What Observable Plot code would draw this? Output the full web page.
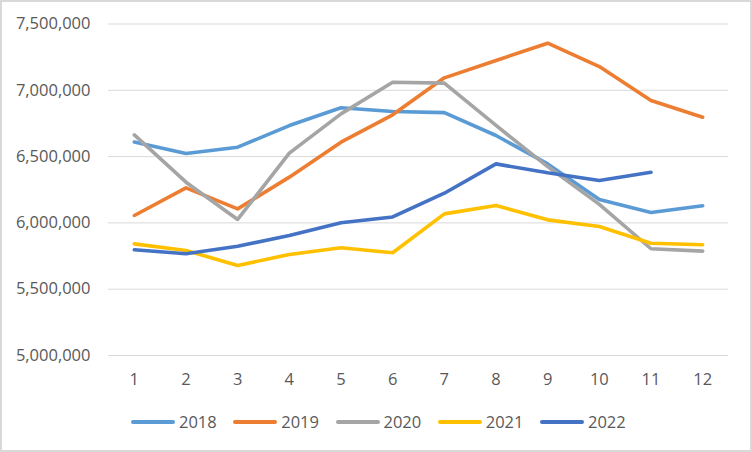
<!DOCTYPE html>
<html>
<head>
<meta charset="utf-8">
<script src="https://cdn.jsdelivr.net/npm/d3@7"></script>
<script src="https://cdn.jsdelivr.net/npm/@observablehq/plot@0.6"></script>
<style>
  html, body { margin: 0; padding: 0; background: #fff; }
  #wrap { position: relative; width: 752px; height: 452px; overflow: hidden; background: #fff; }
  #wrap svg { position: absolute; left: 0; top: 0; }
  #border { position: absolute; left: 0; top: 0; width: 752px; height: 452px; box-sizing: border-box; border: 2px solid #D9D9D9; pointer-events: none; }
  #legend { position: absolute; left: 131px; top: 409px; display: flex; gap: 16.5px; font-family: "Open Sans", sans-serif; font-size: 16.5px; color: #595959; line-height: 25px; }
  .item { display: flex; align-items: center; }
  .sw { width: 44px; height: 4px; border-radius: 2px; margin-right: 4px; }
</style>
</head>
<body>
<div id="wrap"><div id="legend"></div><div id="border"></div></div>
<script>
const months = [1, 2, 3, 4, 5, 6, 7, 8, 9, 10, 11, 12];
const years = ["2018", "2019", "2020", "2021", "2022"];
const colors = ["#5B9BD5", "#ED7D31", "#A5A5A5", "#FFC000", "#4472C4"];
const yTicks = [5000000, 5500000, 6000000, 6500000, 7000000, 7500000];

const v2018 = [6610000, 6523000, 6571000, 6734000, 6868000, 6840000, 6832000, 6659000, 6445000, 6176000, 6078000, 6129000];
const v2019 = [6056000, 6264000, 6106000, 6345000, 6609000, 6815000, 7094000, 7225000, 7355000, 7179000, 6923000, 6797000];
const v2020 = [6664000, 6307000, 6026000, 6526000, 6822000, 7061000, 7054000, 6735000, 6425000, 6140000, 5805000, 5787000];
const v2021 = [5842000, 5792000, 5679000, 5762000, 5812000, 5775000, 6068000, 6131000, 6023000, 5973000, 5847000, 5835000];
const v2022 = [5797000, 5767000, 5824000, 5905000, 6001000, 6045000, 6224000, 6445000, 6378000, 6320000, 6382000];

const series = [v2018, v2019, v2020, v2021, v2022];
const data = [];
series.forEach((vals, i) => vals.forEach((v, j) => data.push({year: years[i], month: months[j], value: v})));

const chart = Plot.plot({
  width: 752,
  height: 400,
  marginLeft: 108,
  marginRight: 24,
  marginTop: 23.5,
  marginBottom: 45,
  style: {fontFamily: "'Open Sans', sans-serif", fontSize: "16.5px", color: "#595959", background: "transparent"},
  x: {type: "point", domain: months, padding: 0.5, round: false, label: null},
  y: {domain: [5000000, 7500000], ticks: yTicks, label: null},
  color: {domain: years, range: colors},
  marks: [
    Plot.gridY(yTicks, {stroke: "#D9D9D9", strokeOpacity: 1, strokeWidth: 1}),
    Plot.axisY(yTicks, {tickSize: 0, tickPadding: 18, tickFormat: d3.format(","), fill: "#595959"}),
    Plot.axisX(months, {tickSize: 0, tickPadding: 18, fill: "#595959"}),
    Plot.line(data, {x: "month", y: "value", z: "year", stroke: "year", strokeWidth: 3.6, strokeLinecap: "round", strokeLinejoin: "round"})
  ]
});
document.getElementById("wrap").prepend(chart);

const legend = document.getElementById("legend");
years.forEach((y, i) => {
  const it = document.createElement("div");
  it.className = "item";
  const sw = document.createElement("div");
  sw.className = "sw";
  sw.style.background = colors[i];
  const t = document.createElement("span");
  t.textContent = y;
  it.appendChild(sw);
  it.appendChild(t);
  legend.appendChild(it);
});
</script>
</body>
</html>
